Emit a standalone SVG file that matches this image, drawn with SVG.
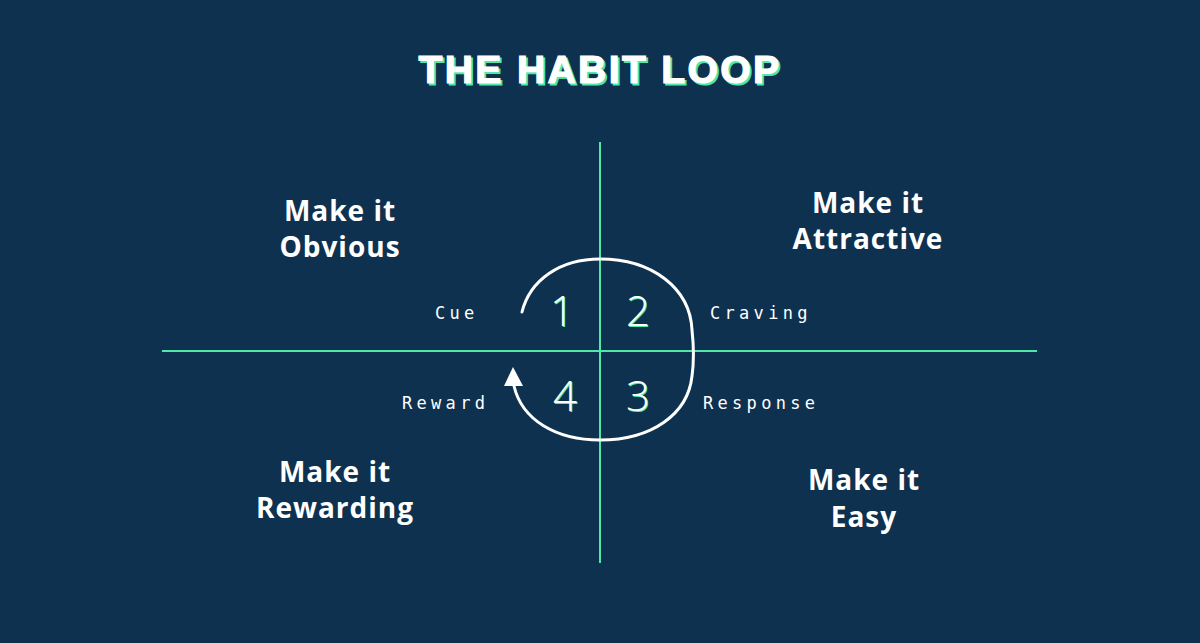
<svg xmlns="http://www.w3.org/2000/svg" width="1200" height="643" viewBox="0 0 1200 643">
<defs>
<style>
.bg{fill:#0e3150}
.axis{stroke:#4fe8a8;stroke-width:2;fill:none}
.loop{stroke:#ffffff;stroke-width:3;fill:none;stroke-linecap:round}
.title{font-family:"Liberation Sans",Arial,sans-serif;font-weight:700;font-size:39px;fill:#ffffff;text-anchor:middle;letter-spacing:2.4px;stroke:#ffffff;stroke-width:1.2px}
.shadow{fill:#4fe8a8}
.title.shadow{stroke:#4fe8a8}
.head{font-family:"Open Sans","Noto Sans",sans-serif;font-weight:700;font-size:28px;fill:#ffffff;text-anchor:middle;letter-spacing:1px}
.lab{font-family:"DejaVu Sans Mono","Liberation Mono",monospace;font-size:17px;fill:#ffffff;letter-spacing:4.3px}
.num{font-family:"Open Sans","Noto Sans",sans-serif;font-weight:300;font-size:42px;text-anchor:middle}
</style>
</defs>
<rect class="bg" x="0" y="0" width="1200" height="643"/>
<g id="title">
<text class="title shadow" x="602" y="85">THE HABIT LOOP</text>
<text class="title" x="600" y="83">THE HABIT LOOP</text>
</g>
<g id="connectors">
<line class="axis" x1="600" y1="142" x2="600" y2="563"/>
<line class="axis" x1="162" y1="351" x2="1037" y2="351"/>
<path class="loop" d="M522,312 C530,280 560,259 600,259 C652,259 690,288 692,330 C694,348 694,362 692,376 C688,414 652,440 600,440 C556,440 522,420 514,386"/>
<polygon points="513,367 504,386 523,386" fill="#ffffff"/>
</g>
<g id="q1">
<text class="head" x="340" y="221">Make it</text>
<text class="head" x="340" y="257">Obvious</text>
</g>
<g id="q2">
<text class="head" x="868" y="213">Make it</text>
<text class="head" x="868" y="249">Attractive</text>
</g>
<g id="q3">
<text class="head" x="335" y="482">Make it</text>
<text class="head" x="335" y="518">Rewarding</text>
</g>
<g id="q4">
<text class="head" x="864" y="490">Make it</text>
<text class="head" x="864" y="527">Easy</text>
</g>
<g id="cue"><text class="lab" x="435" y="319">Cue</text></g>
<g id="craving"><text class="lab" x="710" y="319">Craving</text></g>
<g id="reward"><text class="lab" x="402" y="409">Reward</text></g>
<g id="response"><text class="lab" x="703" y="409">Response</text></g>
<g id="n1"><text class="num shadow" x="563" y="327">1</text><text class="num" x="562" y="326" fill="#ffffff">1</text></g>
<g id="n2"><text class="num shadow" x="639" y="327">2</text><text class="num" x="638" y="326" fill="#ffffff">2</text></g>
<g id="n4"><text class="num shadow" x="566" y="412">4</text><text class="num" x="565" y="411" fill="#ffffff">4</text></g>
<g id="n3"><text class="num shadow" x="639" y="412">3</text><text class="num" x="638" y="411" fill="#ffffff">3</text></g>
</svg>
